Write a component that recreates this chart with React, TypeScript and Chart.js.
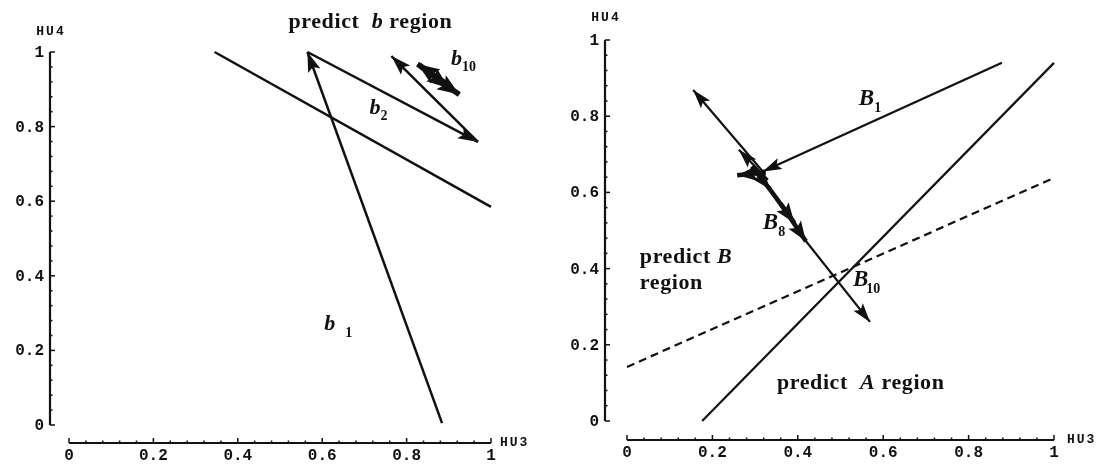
import { useEffect, useRef } from "react";
import { Chart, registerables } from "chart.js";
Chart.register(...registerables);

// ---------- data ----------
const tickValues = [0, 0.2, 0.4, 0.6, 0.8, 1];
const tickLabels = ["0", "0.2", "0.4", "0.6", "0.8", "1"];
const xAxisTitle = "HU3";
const yAxisTitle = "HU4";

// left panel
const leftBoundary = [
  { x: 0.345, y: 1.0 },
  { x: 1.0, y: 0.585 },
];
const leftArrowStarts = [
  { x: 0.884, y: 0.005 },
  { x: 0.565, y: 1.0 },
  { x: 0.969, y: 0.759 },
  { x: 0.9, y: 0.91 },
  { x: 0.83, y: 0.965 },
  { x: 0.87, y: 0.928 },
];
const leftArrowEnds = [
  { x: 0.565, y: 1.0 },
  { x: 0.969, y: 0.759 },
  { x: 0.764, y: 0.989 },
  { x: 0.826, y: 0.968 },
  { x: 0.9, y: 0.903 },
  { x: 0.925, y: 0.886 },
];
const leftArrowWidths = [2.5, 2.5, 2.5, 5.5, 5.5, 5.5];
const leftLabels = [
  { text: "predict", italic: "b", rest: " region", x: 0.52, y: 1.08 },
];
const leftSymbols = [
  { text: "b", sub: "10", x: 0.905, y: 0.981, gap: 0 },
  { text: "b", sub: "2", x: 0.712, y: 0.85, gap: 0 },
  { text: "b", sub: "1", x: 0.605, y: 0.27, gap: 10 },
];

// right panel
const rightBoundaryA = [
  { x: 0.176, y: 0.0 },
  { x: 1.0, y: 0.94 },
];
const rightBoundaryDashed = [
  { x: 0.0, y: 0.142 },
  { x: 1.0, y: 0.638 },
];
const rightArrowStarts = [
  { x: 0.878, y: 0.94 },
  { x: 0.318, y: 0.655 },
  { x: 0.33, y: 0.633 },
  { x: 0.325, y: 0.652 },
  { x: 0.292, y: 0.668 },
  { x: 0.33, y: 0.615 },
  { x: 0.36, y: 0.57 },
  { x: 0.417, y: 0.475 },
];
const rightArrowEnds = [
  { x: 0.318, y: 0.655 },
  { x: 0.155, y: 0.869 },
  { x: 0.262, y: 0.712 },
  { x: 0.258, y: 0.645 },
  { x: 0.335, y: 0.608 },
  { x: 0.392, y: 0.52 },
  { x: 0.419, y: 0.472 },
  { x: 0.569, y: 0.26 },
];
const rightArrowWidths = [2.2, 2.2, 2.2, 4.5, 4.5, 4.5, 4.5, 2.2];
const rightTexts = [
  { text: "predict B", x: 0.03, y: 0.43 },
  { text: "region", x: 0.03, y: 0.362 },
];
const rightRegionA = { text: "predict", italic: "A", rest: " region", x: 0.351, y: 0.1 };
const rightSymbols = [
  { text: "B", sub: "1", x: 0.543, y: 0.845, gap: 0 },
  { text: "B", sub: "8", x: 0.318, y: 0.52, gap: 0 },
  { text: "B", sub: "10", x: 0.529, y: 0.37, gap: -2 },
];

// ---------- drawing helpers ----------
const MONO = "'Liberation Mono', 'DejaVu Sans Mono', monospace";
const SERIF = "'Liberation Serif', 'DejaVu Serif', serif";

function drawHead(ctx: CanvasRenderingContext2D, x1: number, y1: number, x2: number, y2: number, len: number, w: number) {
  const a = Math.atan2(y2 - y1, x2 - x1);
  ctx.save();
  ctx.translate(x2, y2);
  ctx.rotate(a);
  ctx.beginPath();
  ctx.moveTo(0, 0);
  ctx.lineTo(-len, -w);
  ctx.lineTo(-len * 0.8, 0);
  ctx.lineTo(-len, w);
  ctx.closePath();
  ctx.fill();
  ctx.restore();
}

function makeAxesPlugin(yOff: number, xOff: number, titleXOff: number, titleYOff: number) {
  return {
    id: "customAxes",
    afterDraw(chart: any) {
      const ctx: CanvasRenderingContext2D = chart.ctx;
      const xs = chart.scales.x;
      const ys = chart.scales.y;
      const ax = chart.chartArea.left - yOff;
      const ay = chart.chartArea.bottom + xOff;
      ctx.save();
      ctx.strokeStyle = "#111";
      ctx.fillStyle = "#111";
      ctx.lineWidth = 2.2;
      ctx.beginPath();
      ctx.moveTo(ax, ys.getPixelForValue(1));
      ctx.lineTo(ax, ys.getPixelForValue(0));
      ctx.stroke();
      ctx.beginPath();
      ctx.moveTo(xs.getPixelForValue(0), ay);
      ctx.lineTo(xs.getPixelForValue(1), ay);
      ctx.stroke();
      ctx.lineWidth = 1.5;
      for (let i = 0; i <= 25; i++) {
        const v = i * 0.04;
        const major = i % 5 === 0;
        const l = major ? 5 : 2.5;
        const py = ys.getPixelForValue(v);
        ctx.beginPath();
        ctx.moveTo(ax, py);
        ctx.lineTo(ax + l, py);
        ctx.stroke();
        const px = xs.getPixelForValue(v);
        ctx.beginPath();
        ctx.moveTo(px, ay);
        ctx.lineTo(px, ay - l);
        ctx.stroke();
      }
      ctx.font = `bold 16px ${MONO}`;
      ctx.textBaseline = "middle";
      tickValues.forEach((v, i) => {
        ctx.textAlign = "right";
        ctx.fillText(tickLabels[i], ax - 6, ys.getPixelForValue(v) + 1);
        ctx.textAlign = "center";
        ctx.fillText(tickLabels[i], xs.getPixelForValue(v), ay + 13);
      });
      ctx.font = `bold 13px ${MONO}`;
      (ctx as any).letterSpacing = "2px";
      ctx.textAlign = "left";
      ctx.fillText(xAxisTitle, xs.getPixelForValue(1) + titleXOff, ay);
      ctx.textAlign = "center";
      ctx.fillText(yAxisTitle, ax + 1, ys.getPixelForValue(1) - titleYOff);
      (ctx as any).letterSpacing = "0px";
      ctx.restore();
    },
  };
}

const arrowPlugin = {
  id: "arrowHeads",
  afterDatasetsDraw(chart: any) {
    const ctx: CanvasRenderingContext2D = chart.ctx;
    ctx.save();
    ctx.fillStyle = "#111";
    chart.data.datasets.forEach((ds: any, i: number) => {
      if (!ds.arrow) return;
      const pts = chart.getDatasetMeta(i).data;
      if (pts.length < 2) return;
      const a = pts[pts.length - 2];
      const b = pts[pts.length - 1];
      drawHead(ctx, a.x, a.y, b.x, b.y, ds.headLen || 20, ds.headW || 6);
    });
    ctx.restore();
  },
};

function drawSymbol(ctx: CanvasRenderingContext2D, chart: any, s: any, size: number, subSize: number) {
  const px = chart.scales.x.getPixelForValue(s.x);
  const py = chart.scales.y.getPixelForValue(s.y);
  ctx.font = `italic bold ${size}px ${SERIF}`;
  ctx.textAlign = "left";
  ctx.textBaseline = "middle";
  ctx.fillText(s.text, px, py);
  const w = ctx.measureText(s.text).width;
  ctx.font = `bold ${subSize}px ${SERIF}`;
  ctx.fillText(s.sub, px + w + s.gap, py + size * 0.4);
}

function drawMixed(ctx: CanvasRenderingContext2D, chart: any, l: any, size: number) {
  let px = chart.scales.x.getPixelForValue(l.x);
  const py = chart.scales.y.getPixelForValue(l.y);
  ctx.textBaseline = "middle";
  ctx.textAlign = "left";
  const f1 = `bold ${size}px ${SERIF}`;
  const f2 = `italic bold ${size}px ${SERIF}`;
  const parts = [
    { t: l.text + "  ", f: f1 },
    { t: l.italic, f: f2 },
    { t: l.rest, f: f1 },
  ];
  (ctx as any).letterSpacing = "0.6px";
  parts.forEach((p) => {
    ctx.font = p.f;
    ctx.fillText(p.t, px, py);
    px += ctx.measureText(p.t).width;
  });
  (ctx as any).letterSpacing = "0px";
}

const leftTextPlugin = {
  id: "leftText",
  afterDraw(chart: any) {
    const ctx: CanvasRenderingContext2D = chart.ctx;
    ctx.save();
    ctx.fillStyle = "#111";
    leftLabels.forEach((l) => drawMixed(ctx, chart, l, 22));
    leftSymbols.forEach((s) => drawSymbol(ctx, chart, s, 22, 14));
    ctx.restore();
  },
};

const rightTextPlugin = {
  id: "rightText",
  afterDraw(chart: any) {
    const ctx: CanvasRenderingContext2D = chart.ctx;
    ctx.save();
    ctx.fillStyle = "#111";
    rightTexts.forEach((t) => {
      const px = chart.scales.x.getPixelForValue(t.x);
      const py = chart.scales.y.getPixelForValue(t.y);
      ctx.textAlign = "left";
      ctx.textBaseline = "middle";
      (ctx as any).letterSpacing = "0.6px";
      const parts = t.text.split(" B");
      ctx.font = `bold 22px ${SERIF}`;
      ctx.fillText(parts[0], px, py);
      if (parts.length > 1) {
        const w = ctx.measureText(parts[0] + " ").width;
        ctx.font = `italic bold 22px ${SERIF}`;
        ctx.fillText("B", px + w, py);
      }
      (ctx as any).letterSpacing = "0px";
    });
    drawMixed(ctx, chart, rightRegionA, 22);
    rightSymbols.forEach((s) => drawSymbol(ctx, chart, s, 23, 14));
    ctx.restore();
  },
};

function lineDs(data: any[], width: number, extra: any = {}) {
  return {
    data,
    showLine: true,
    borderColor: "#111",
    backgroundColor: "#111",
    borderWidth: width,
    pointRadius: 0,
    pointHoverRadius: 0,
    clip: false,
    ...extra,
  };
}

function baseOptions(padding: any) {
  return {
    animation: false,
    responsive: false,
    devicePixelRatio: 1,
    layout: { padding },
    plugins: { legend: { display: false }, tooltip: { enabled: false } },
    events: [],
    scales: {
      x: { type: "linear", min: 0, max: 1, display: false },
      y: { type: "linear", min: 0, max: 1, display: false },
    },
  } as any;
}

export default function App() {
  const leftRef = useRef<HTMLCanvasElement>(null);
  const rightRef = useRef<HTMLCanvasElement>(null);

  useEffect(() => {
    const leftDatasets: any[] = [lineDs(leftBoundary, 2.5)];
    leftArrowStarts.forEach((s, i) => {
      const heavy = leftArrowWidths[i] > 3;
      leftDatasets.push(
        lineDs([s, leftArrowEnds[i]], leftArrowWidths[i], { arrow: true, headLen: heavy ? 22 : 20, headW: heavy ? 8.5 : 6.5 })
      );
    });
    const c1 = new Chart(leftRef.current!, {
      type: "scatter",
      data: { datasets: leftDatasets },
      options: baseOptions({ left: 69, right: 60, top: 52, bottom: 39 }),
      plugins: [makeAxesPlugin(19, 18, 9, 20), arrowPlugin, leftTextPlugin],
    } as any);

    const rightDatasets: any[] = [
      lineDs(rightBoundaryA, 2.2),
      lineDs(rightBoundaryDashed, 2.2, { borderDash: [8, 5] }),
    ];
    rightArrowStarts.forEach((s, i) => {
      const heavy = rightArrowWidths[i] > 3;
      rightDatasets.push(
        lineDs([s, rightArrowEnds[i]], rightArrowWidths[i], { arrow: true, headLen: heavy ? 20 : 19, headW: heavy ? 7.5 : 6 })
      );
    });
    const c2 = new Chart(rightRef.current!, {
      type: "scatter",
      data: { datasets: rightDatasets },
      options: baseOptions({ left: 76, right: 49, top: 40, bottom: 43 }),
      plugins: [makeAxesPlugin(22, 19, 13, 22), arrowPlugin, rightTextPlugin],
    } as any);

    return () => {
      c1.destroy();
      c2.destroy();
    };
  }, []);

  return (
    <div style={{ position: "absolute", left: 0, top: 0, width: 1103, height: 464, background: "#fff" }}>
      <canvas ref={leftRef} width={551} height={464} style={{ position: "absolute", left: 0, top: 0 }} />
      <canvas ref={rightRef} width={552} height={464} style={{ position: "absolute", left: 551, top: 0 }} />
    </div>
  );
}
